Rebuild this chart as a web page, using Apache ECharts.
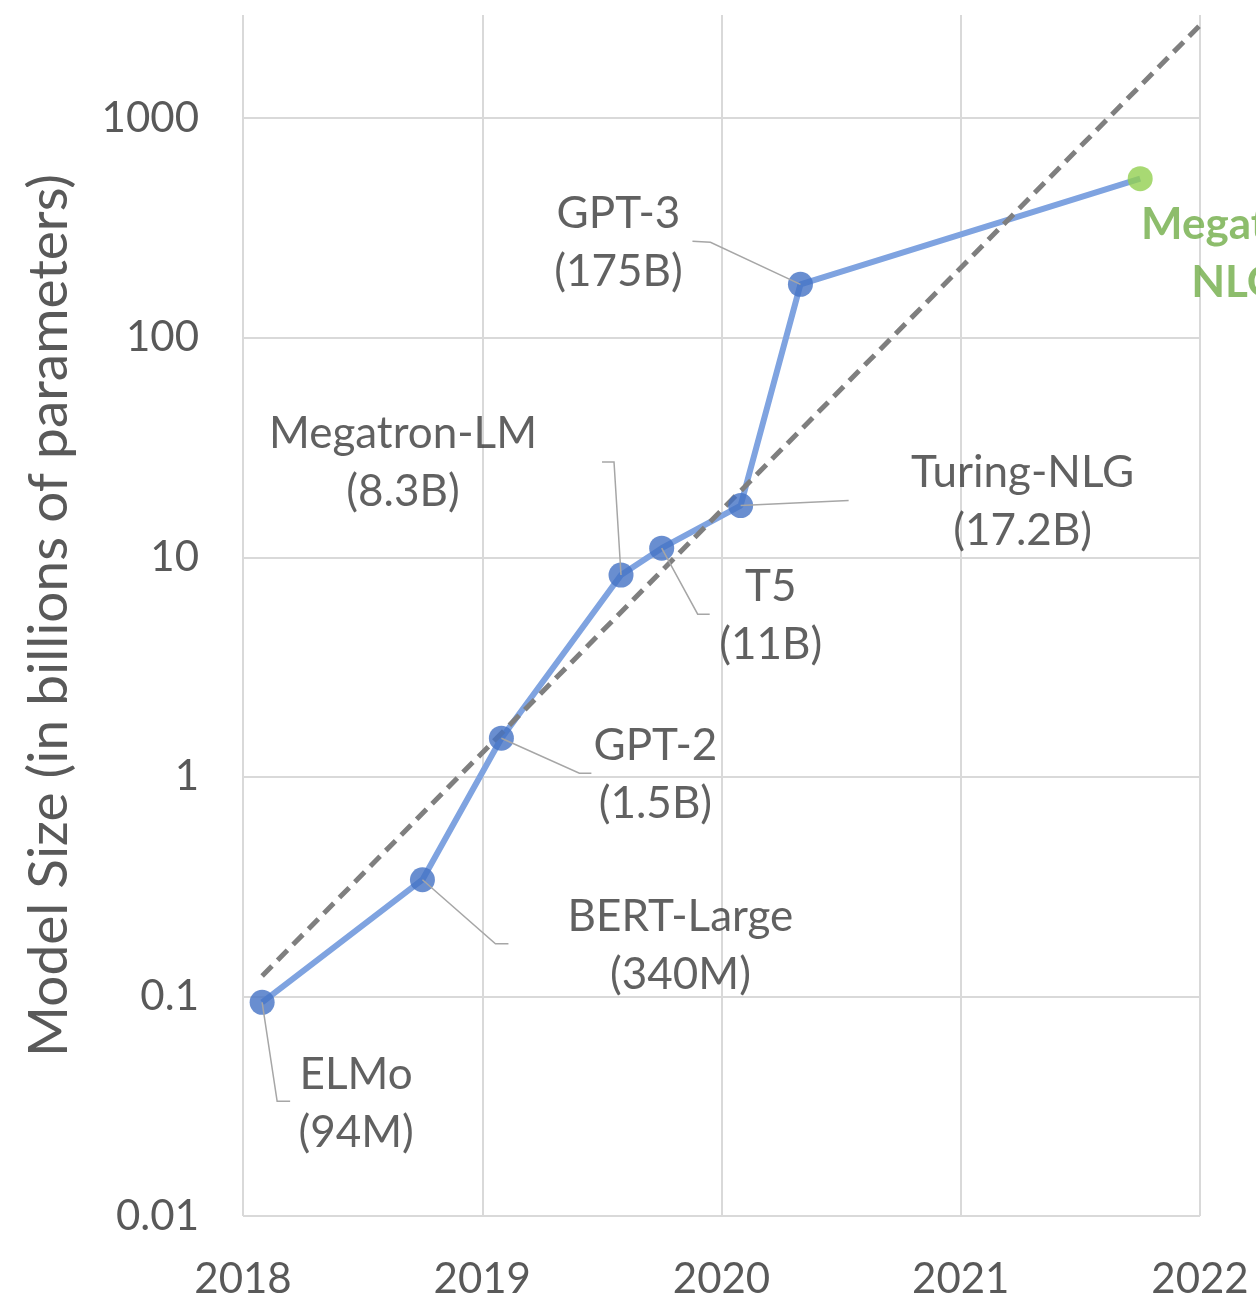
<!DOCTYPE html>
<html>
<head>
<meta charset="utf-8">
<script src="https://cdn.jsdelivr.net/npm/echarts@6/dist/echarts.min.js"></script>
<style>
  html, body { margin: 0; padding: 0; background: #fff; }
  #main { width: 1256px; height: 1300px; }
</style>
</head>
<body>
<div id="main"></div>
<script>
    // data
    var models = ['ELMo', 'BERT-Large', 'GPT-2', 'Megatron-LM', 'T5', 'Turing-NLG', 'GPT-3', 'Megatron-Turing\nNLG'];
    var releaseYear = [2018.08, 2018.75, 2019.08, 2019.58, 2019.75, 2020.08, 2020.33, 2021.75];
    var paramsB = [0.094, 0.34, 1.5, 8.3, 11, 17.2, 175, 530];
    var sizeText = ['94M', '340M', '1.5B', '8.3B', '11B', '17.2B', '175B', '530B'];
    var trendYear = [2018.08, 2022];
    var trendParams = [0.124, 2650];

    // label placement, px relative to the point (centre of text block) and leader bends
    var labelOffset = [[94, 101], [258, 66], [154, 37], [-218, -112], [109, 68], [282, -4], [-182, -42], [165, 75]];
    var leaderBends = [
        [[15, 99], [28, 99]],
        [[73, 64], [86, 64]],
        [[78, 35], [90, 35]],
        [[-7, -113], [-19, -113]],
        [[36, 66], [48, 66]],
        [[108, -5]],
        [[-90, -42], [-108, -43]],
        []
    ];

    var FONT = 'Lato';
    var textGray = '#3a3a3a';
    var axisGray = '#595959';
    var blue = '#4472C4';
    var green = '#92D050';

    var points = releaseYear.map(function (x, i) {
        var item = { value: [x, paramsB[i]], name: models[i] };
        var isLast = i == releaseYear.length - 1;
        item.itemStyle = { color: isLast ? green : blue };
        item.label = {
            offset: labelOffset[i],
            color: isLast ? '#70AD47' : textGray,
            fontWeight: isLast ? 'bold' : 'normal'
        };
        return item;
    });
    var lineData = releaseYear.map(function (x, i) { return [x, paramsB[i]]; });
    var trendData = trendYear.map(function (x, i) { return [x, trendParams[i]]; });

    var chart = echarts.init(document.getElementById('main'));
    var option = {
        animation: false,
        backgroundColor: '#fff',
        grid: { left: 243, right: 56, top: 15, bottom: 84, outerBoundsMode: 'none' },
        xAxis: {
            type: 'value',
            min: 2018, max: 2022, interval: 1,
            axisLine: { show: false },
            axisTick: { show: false },
            axisLabel: {
                color: axisGray, fontFamily: FONT, fontSize: 42, margin: 42,
                formatter: function (v) { return String(v); }
            },
            splitLine: { show: true, lineStyle: { color: '#d9d9d9', width: 2 } }
        },
        yAxis: {
            type: 'log',
            logBase: 10,
            min: 0.01, max: 2950,
            axisLine: { show: false },
            axisTick: { show: false },
            axisLabel: {
                color: axisGray, fontFamily: FONT, fontSize: 42, margin: 44,
                showMaxLabel: false,
                formatter: function (v) {
                    var e = Math.log10(v);
                    if (Math.abs(e - Math.round(e)) > 1e-6) return '';
                    return e < 0 ? v.toFixed(-Math.round(e)) : String(Math.round(v));
                }
            },
            splitLine: { show: true, showMaxLine: false, lineStyle: { color: '#d9d9d9', width: 2 } },
            name: 'Model Size (in billions of parameters)',
            nameLocation: 'middle',
            nameRotate: 90,
            nameGap: 166,
            nameTextStyle: { color: axisGray, fontFamily: FONT, fontSize: 55 }
        },
        series: [
            {
                type: 'line',
                data: lineData,
                showSymbol: false,
                lineStyle: { color: '#7FA3E0', width: 6 },
                z: 2
            },
            {
                type: 'line',
                data: trendData,
                showSymbol: false,
                lineStyle: { color: '#7f7f7f', width: 5, type: [14, 8] },
                z: 3
            },
            {
                type: 'scatter',
                data: points,
                symbolSize: 25,
                z: 4,
                label: {
                    show: true,
                    position: 'inside',
                    fontFamily: FONT,
                    fontSize: 44,
                    lineHeight: 58,
                    align: 'center',
                    verticalAlign: 'middle',
                    formatter: function (p) {
                        return p.data.name + (p.dataIndex == models.length - 1 ? ' ' : '\n') + '(' + sizeText[p.dataIndex] + ')';
                    }
                }
            }
        ]
    };
    chart.setOption(option);

    // leader lines from each point to its label
    var leaders = [];
    for (let i = 0; i < releaseYear.length; i++) {
        if (!leaderBends[i].length) continue;
        let p = chart.convertToPixel({ gridIndex: 0 }, [releaseYear[i], paramsB[i]]);
        let pts = [p];
        leaderBends[i].forEach(function (b) { pts.push([p[0] + b[0], p[1] + b[1]]); });
        leaders.push({
            type: 'polyline',
            shape: { points: pts },
            style: { stroke: '#a6a6a6', lineWidth: 1.5, fill: null },
            z: 10
        });
    }
    chart.setOption({ graphic: leaders });
</script>
</body>
</html>
